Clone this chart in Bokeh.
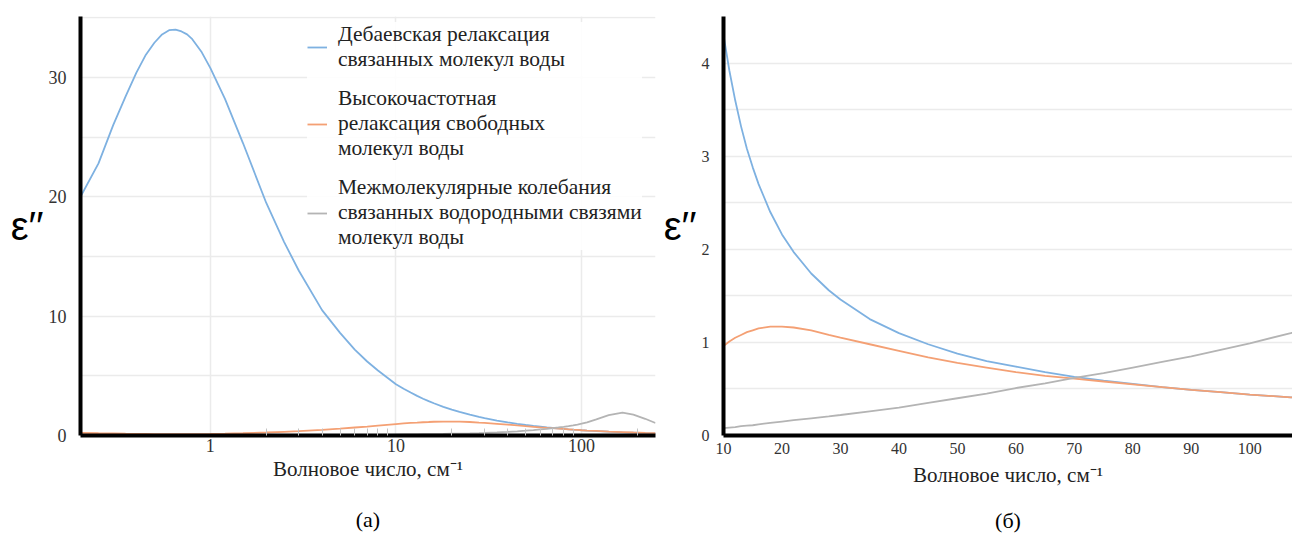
from bokeh.plotting import figure
from bokeh.models import FixedTicker, Legend, LegendItem, LinearAxis, LogAxis
from bokeh.layouts import row
from bokeh.embed import file_html
from bokeh.resources import INLINE

# wavenumber, cm^-1
wavenumber = [0.2, 0.25, 0.3, 0.35, 0.4, 0.45, 0.5, 0.55, 0.6, 0.65, 0.7, 0.75, 0.8, 0.9, 1.0,
              1.2, 1.5, 2, 2.5, 3, 4, 5, 6, 7, 8, 10, 11, 12, 13, 14, 15, 16, 18, 20,
              22, 25, 28, 30, 35, 40, 45, 50, 55, 60, 65, 70, 75, 80, 85, 90, 95, 100,
              107, 120, 140, 166, 190, 220, 250]

debye_bound = [20.0, 22.8, 26.0, 28.4, 30.4, 31.9, 32.9, 33.6, 33.95, 34.0, 33.85, 33.6, 33.2, 32.1, 30.8,
               28.2, 24.5, 19.5, 16.2, 13.8, 10.5, 8.6, 7.2, 6.2, 5.45, 4.30, 3.92, 3.60, 3.32, 3.08, 2.88, 2.70, 2.40, 2.16,
               1.97, 1.74, 1.56, 1.46, 1.25, 1.10, 0.98, 0.88, 0.80, 0.74, 0.68, 0.63, 0.59, 0.555, 0.52, 0.49, 0.465, 0.44,
               0.41, 0.37, 0.32, 0.27, 0.235, 0.20, 0.18]

hf_free = [0.22, 0.19, 0.17, 0.15, 0.14, 0.13, 0.12, 0.12, 0.115, 0.115, 0.115, 0.115, 0.115, 0.12, 0.125,
           0.15, 0.19, 0.25, 0.31, 0.36, 0.47, 0.57, 0.67, 0.75, 0.83, 0.96, 1.01, 1.05, 1.08, 1.11, 1.13, 1.15, 1.17, 1.17,
           1.16, 1.13, 1.08, 1.05, 0.98, 0.91, 0.84, 0.78, 0.73, 0.68, 0.64, 0.61, 0.58, 0.55, 0.52, 0.49, 0.465, 0.44,
           0.41, 0.38, 0.33, 0.29, 0.25, 0.22, 0.20]

intermolecular = [0.0, 0.0, 0.0, 0.0, 0.0, 0.0, 0.0, 0.0, 0.0, 0.0, 0.0, 0.0, 0.0, 0.0, 0.0,
                  0.005, 0.008, 0.01, 0.012, 0.015, 0.025, 0.03, 0.04, 0.05, 0.06, 0.08, 0.085, 0.09, 0.10, 0.105, 0.11, 0.12, 0.135, 0.15,
                  0.165, 0.185, 0.205, 0.22, 0.26, 0.30, 0.35, 0.40, 0.45, 0.51, 0.56, 0.62, 0.67, 0.73, 0.79, 0.85, 0.92, 0.99,
                  1.10, 1.35, 1.70, 1.92, 1.75, 1.40, 1.05]

labels = ["Дебаевская релаксация\nсвязанных молекул воды",
          "Высокочастотная\nрелаксация свободных\nмолекул воды",
          "Межмолекулярные колебания\nсвязанных водородными связями\nмолекул воды"]
colors = ["#7eb1e1", "#f4a074", "#b4b4b4"]
series = [debye_bound, hf_free, intermolecular]
captions = ["(а)", "(б)"]

left_yticks = [0, 10, 20, 30]
left_yminor = [5, 15, 25, 35]
left_xticks = [1, 10, 100]
left_xminor = [2, 3, 4, 5, 6, 7, 8, 9, 20, 30, 40, 50, 60, 70, 80, 90, 200]
right_yticks = [0, 1, 2, 3, 4]
right_yminor = [0.5, 1.5, 2.5, 3.5, 4.5]
right_xticks = [10, 20, 30, 40, 50, 60, 70, 80, 90, 100]

GRID = "#ebebeb"
SERIF = "Liberation Serif"


def style(p, fsize_ticks, tick_standoff, label_standoff):
    p.outline_line_color = None
    p.background_fill_color = "white"
    p.border_fill_color = "white"
    for ax in (p.xaxis[0], p.yaxis[0]):
        ax.axis_line_width = 4
        ax.axis_line_color = "black"
        ax.major_tick_line_color = None
        ax.minor_tick_line_color = None
        ax.major_label_text_font = SERIF
        ax.major_label_text_font_size = fsize_ticks
        ax.major_label_text_color = "#333333"
    p.xaxis[0].axis_label = "Волновое число, см⁻¹"
    p.xaxis[0].axis_label_text_font = SERIF
    p.xaxis[0].axis_label_text_font_size = "21px"
    p.xaxis[0].axis_label_text_font_style = "normal"
    p.xaxis[0].axis_label_text_color = "#222222"
    p.xaxis[0].axis_label_standoff = label_standoff
    p.xaxis[0].major_label_standoff = tick_standoff
    p.yaxis[0].axis_label = "ε′′"
    p.yaxis[0].axis_label_orientation = "horizontal"
    p.yaxis[0].axis_label_text_font = "Liberation Sans"
    p.yaxis[0].axis_label_text_font_size = "40px"
    p.yaxis[0].axis_label_text_font_style = "normal"
    p.yaxis[0].axis_label_text_color = "black"
    p.yaxis[0].axis_label_standoff = 2
    p.yaxis[0].major_label_standoff = 8
    p.ygrid.grid_line_color = GRID
    p.ygrid.grid_line_width = 1.5
    p.ygrid.minor_grid_line_color = GRID
    p.ygrid.minor_grid_line_width = 1.5


def add_caption(p, axis_cls, text, standoff):
    cap = axis_cls(ticker=FixedTicker(ticks=[]), axis_label=text)
    cap.axis_line_color = None
    cap.major_tick_line_color = None
    cap.minor_tick_line_color = None
    cap.major_label_text_font_size = "0px"
    cap.major_label_standoff = 0
    cap.axis_label_standoff = standoff
    cap.axis_label_text_font = SERIF
    cap.axis_label_text_font_size = "22px"
    cap.axis_label_text_font_style = "normal"
    cap.axis_label_text_color = "black"
    p.add_layout(cap, "below")


H = 535
TOP = 16
BOTTOM = 438

# ---------- left panel (a) ----------
p1 = figure(width=660, height=H, x_axis_type="log", x_range=(0.2, 250), y_range=(0, 35.1),
            output_backend="svg", toolbar_location=None,
            min_border_left=80, min_border_right=5, min_border_top=TOP, min_border_bottom=H - BOTTOM)
style(p1, "18px", -3, 2)
p1.yaxis.ticker = FixedTicker(ticks=left_yticks, minor_ticks=left_yminor)
p1.xaxis[0].ticker = FixedTicker(ticks=left_xticks, minor_ticks=left_xminor)
p1.xaxis[0].minor_tick_line_color = "#c4c4c4"
p1.xaxis[0].minor_tick_in = 7
p1.xaxis[0].minor_tick_out = 0
p1.xaxis[0].major_label_overrides = {1: "1", 10: "10", 100: "100"}
p1.xgrid.grid_line_color = GRID
p1.xgrid.grid_line_width = 1.5

items = []
for lab, col, ys in zip(labels, colors, series):
    r = p1.line(wavenumber, ys, line_color=col, line_width=1.8)
    items.append(LegendItem(label=lab, renderers=[r]))
legend = Legend(items=items, location=(227, 185), background_fill_color="white",
                background_fill_alpha=0.9, border_line_color=None,
                label_text_font=SERIF, label_text_font_size="21.5px", label_text_color="#222222",
                glyph_width=20, label_standoff=11,
                spacing=14, padding=4, margin=0)
p1.add_layout(legend)
add_caption(p1, LogAxis, captions[0], 23)

# ---------- right panel (б) ----------
p2 = figure(width=632, height=H, x_range=(10, 107.3), y_range=(0, 4.5),
            output_backend="svg", toolbar_location=None,
            min_border_left=62, min_border_right=0, min_border_top=TOP, min_border_bottom=H - BOTTOM)
style(p2, "16px", 1, 6)
p2.yaxis.ticker = FixedTicker(ticks=right_yticks, minor_ticks=right_yminor)
p2.xaxis[0].ticker = FixedTicker(ticks=right_xticks)
p2.xgrid.grid_line_color = None
for col, ys in zip(colors, series):
    p2.line(wavenumber, ys, line_color=col, line_width=1.8)
add_caption(p2, LinearAxis, captions[1], 18)

layout = row(p1, p2)
open("out.html", "w").write(file_html(layout, INLINE))
